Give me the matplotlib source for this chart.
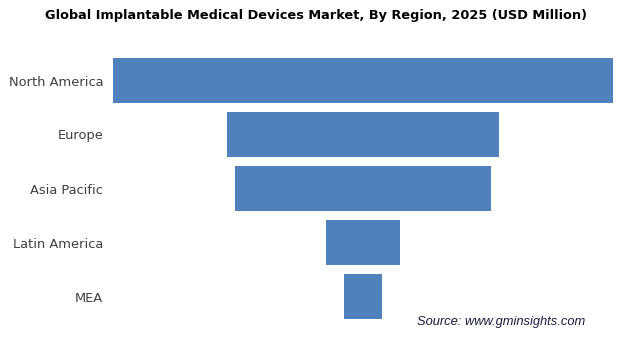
import matplotlib
matplotlib.use("Agg")
import matplotlib.pyplot as plt

# regional market size, 2025 (USD million)
regions = ["North America", "Europe", "Asia Pacific", "Latin America", "MEA"]
values = [50000, 27200, 25600, 7400, 3800]

fig = plt.figure(figsize=(6.24, 3.52), dpi=100)
ax = fig.add_axes([113/624, 1 - 323.5/352, 500/624, 270/352])

# funnel: each bar centred on zero
lefts = [-v / 2 for v in values]
ax.barh(range(len(regions)), values, left=lefts, height=0.83, color="#4F81BD")
ax.set_ylim(len(regions) - 0.5, -0.5)
ax.set_xlim(-max(values) / 2, max(values) / 2)

ax.set_yticks(range(len(regions)))
ax.set_yticklabels(regions, fontsize=9.4, color="#404040")
ax.tick_params(axis="y", length=0, pad=7)
ax.set_xticks([])
for s in ax.spines.values():
    s.set_visible(False)

fig.text(316/624, 1 - 15/352, "Global Implantable Medical Devices Market, By Region, 2025 (USD Million)",
         ha="center", va="center", fontsize=9.3, fontweight="bold")
fig.text(417/624, 1 - 322/352, "Source: www.gminsights.com", ha="left", va="center",
         fontsize=9.3, style="italic", color="#1a1a40", family="Liberation Sans")

fig.savefig("out.png", dpi=100)
